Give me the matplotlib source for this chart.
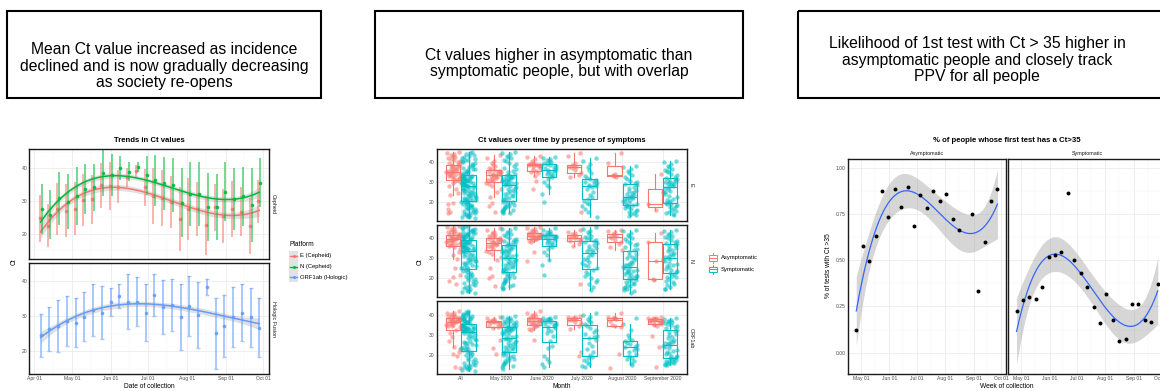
import numpy as np
import matplotlib
matplotlib.use("Agg")
import matplotlib.pyplot as plt
import matplotlib.dates as mdates
from matplotlib.patches import Rectangle

plt.rcParams["font.family"] = ["Liberation Sans", "DejaVu Sans"]

# %% panel 1: weekly mean Ct and sd per target
weeks = ["2020-04-06", "2020-04-13", "2020-04-20", "2020-04-27", "2020-05-04",
         "2020-05-11", "2020-05-18", "2020-05-25", "2020-06-01", "2020-06-08",
         "2020-06-15", "2020-06-22", "2020-06-29", "2020-07-06", "2020-07-13",
         "2020-07-20", "2020-07-27", "2020-08-03", "2020-08-10", "2020-08-17",
         "2020-08-24", "2020-08-31", "2020-09-07", "2020-09-14", "2020-09-21",
         "2020-09-28"]
e_mean = [24.7, 22.5, 27.6, 27.1, 27.7, 30.4, 30.6, 34.8, 34.7, 34.4, 37.2, 39.3, 34.2,
          31.6, 30.9, 29.8, 24.5, 27.6, 27.6, 22.6, 28.1, 25.5, 27.6, 26.7, 22.3, 29.9]
e_sd = [7.1, 6.6, 8.0, 8.1, 8.2, 8.0, 7.5, 6.8, 7.3, 5.0, 3.0, 1.8, 5.7,
        8.5, 8.5, 8.0, 9.8, 9.5, 8.2, 9.0, 7.2, 8.2, 8.5, 7.5, 8.6, 6.5]
n_mean = [27.6, 25.8, 30.9, 29.8, 31.5, 33.7, 34.2, 38.5, 38.0, 40.0, 39.0, 40.3, 37.9,
          36.4, 35.4, 34.9, 29.5, 32.2, 32.2, 28.3, 28.3, 32.9, 30.7, 31.4, 28.7, 35.6]
n_sd = [7.7, 7.5, 8.1, 8.4, 8.8, 7.7, 7.1, 7.1, 6.5, 3.7, 3.0, 1.5, 6.0,
        7.8, 8.1, 8.1, 10.5, 9.8, 9.7, 10.4, 10.1, 9.1, 9.4, 9.0, 11.3, 7.5]
orf_mean = [24.5, 26.3, 27.2, 28.5, 28.1, 29.8, 31.7, 31.0, 34.0, 35.6, 34.1, 34.1, 31.0,
            35.9, 32.6, 33.0, 29.7, 32.8, 30.3, 38.2, 25.1, 27.2, 29.7, 31.0, 29.7, 26.7]
orf_sd = [6.1, 6.2, 7.4, 7.1, 6.9, 7.0, 7.5, 7.4, 4.0, 3.4, 7.9, 7.0, 8.0,
          6.0, 7.7, 7.4, 9.3, 8.5, 9.3, 2.2, 10.1, 8.9, 8.5, 8.0, 8.4, 8.3]
platforms = ["E (Cepheid)", "N (Cepheid)", "ORF1ab (Hologic)"]

# %% panel 2: Ct values by month and symptoms
months = ["All", "May 2020", "June 2020", "July 2020", "August 2020", "September 2020"]
e_asym = [
    [45, 44.5, 44, 43.5, 43, 42.5, 42, 41.5, 41, 40.5, 40, 39.5, 39, 38.8, 38.5, 38.2, 38,
     37.6, 37.2, 36.8, 36.5, 36.2, 36, 35.7, 35.4, 35.1, 35, 34.8, 34.5, 34.2, 34, 33.7,
     33.4, 33, 32.7, 32.4, 32, 31.6, 31.2, 30.8, 30.2, 29.5, 28.2, 26.5, 24.5, 23.5, 19.5,
     19.2, 16.5, 15.2, 14.8],
    [43.5, 42, 40.5, 39.5, 38.8, 38, 37.3, 36.8, 36.3, 35.9, 35.6, 35.3, 35, 34.7, 34.4,
     34.1, 33.8, 33.5, 33.2, 32.9, 32.5, 32.1, 31.7, 31.3, 31, 30.5, 29.8, 29, 28, 26.5, 25,
     22.8, 19.5, 18, 15],
    [43.3, 42.5, 41.5, 40.5, 39.8, 39.4, 39.2, 39, 38.9, 38.8, 38.7, 38.6, 38.4, 38, 37.5,
     37, 36.3, 35.5, 35, 34.5, 33, 30.5, 26.5],
    [44.5, 43, 39.5, 38.8, 38.2, 37.8, 37.5, 37.2, 36, 34.5, 33.5, 32.8, 15],
    [44.5, 39.8, 34, 33.7, 33.2, 32.8],
    [34.3, 19, 16],
]
e_sym = [
    [12.2, 12.6, 12.8, 13, 13.3, 13.7, 14, 14.4, 14.6, 14.8, 15.1, 15.5, 15.8, 16.2, 16.5,
     16.9, 17.2, 17.6, 17.9, 18.2, 18.5, 18.8, 19.1, 19.4, 19.7, 20, 20.2, 20.5, 20.8, 21.1,
     21.4, 21.7, 21.9, 22, 22.3, 22.6, 22.9, 23.2, 23.5, 23.8, 24.1, 24.4, 24.7, 25, 25.3,
     25.6, 25.9, 26.2, 26.5, 26.8, 27.1, 27.4, 27.7, 28, 28.2, 28.4, 28.6, 28.8, 29, 29.2,
     29.4, 29.6, 29.8, 30, 30.2, 30.4, 30.6, 30.8, 31, 31.2, 31.4, 31.6, 31.8, 32, 32.2,
     32.4, 32.6, 32.8, 33, 33.2, 33.4, 33.8, 34.2, 34.7, 35.1, 35.3, 35.6, 36, 36.5, 36.9,
     37.4, 37.8, 38.3, 38.7, 39.2, 39.6, 40.1, 40.5, 41, 41.4, 41.9, 42.3, 42.8, 43.2, 43.7,
     44.1, 44.6, 45],
    [45, 44.5, 44, 43.3, 42.6, 42, 41.2, 40.5, 39.8, 39, 38.2, 37.4, 36.6, 35.8, 35, 34.3,
     33.8, 33.4, 33.1, 32.8, 32.5, 32.2, 31.9, 31.6, 31.3, 31, 30.7, 30.4, 30.1, 29.8, 29.5,
     29.2, 29, 28.6, 28.1, 27.6, 27.1, 26.6, 26.1, 25.6, 25.1, 24.6, 24.1, 23.6, 23.1, 22.6,
     22.1, 21.6, 21.1, 20.8, 20.4, 20, 19.6, 19.2, 18.8, 18.4, 18, 17.6, 17.2, 16.8, 16.4,
     16, 15.6, 15.2, 14.8, 14.5],
    [42.5, 42, 41.5, 41, 40.5, 40, 39.5, 39.2, 38.8, 38.3, 37.8, 37.3, 36.8, 36.4, 36, 35.5,
     35, 34.5, 34, 33.5, 33, 32.6, 31.5, 30, 28.5, 27.5, 24, 20.3],
    [42, 40.5, 39, 37.5, 36, 34.5, 33, 32, 31.5, 31, 30.5, 30, 29.5, 29, 28.5, 28.2, 28,
     27.5, 26.5, 25, 23.5, 22.5, 21.5, 20.5, 19.5, 19, 18, 16.5, 15, 12.5],
    [38.4, 37.5, 36.5, 35.5, 34.5, 33.5, 32.5, 31.5, 30.8, 30.2, 29.8, 29.2, 28.5, 27.8, 27,
     26.2, 25.5, 24.8, 24, 23.5, 23, 22.8, 22.5, 22, 21.5, 21, 20.5, 20, 19.5, 19, 18.5,
     18.2, 17.8, 17.2, 16.6, 16, 15.5, 15, 14.5, 14, 13.5, 13, 18.8, 22.2, 25],
    [40.8, 40, 39.2, 38.4, 37.6, 36.8, 36, 35.2, 34.4, 33.6, 32.8, 32.2, 31.8, 31.4, 31,
     30.6, 30.2, 29.8, 29.4, 29, 28.6, 28.2, 27.8, 27.2, 26.5, 25.8, 25, 24.2, 23.4, 22.6,
     21.8, 21, 20.2, 19.6, 19, 18.6, 18.2, 17.6, 17, 16.4, 15.8, 15.2, 14.6, 14, 13.8, 19.3,
     20.6, 25.4, 30.4, 35.6],
]
n_asym = [
    [45.8, 45.3, 44.8, 44.4, 44, 43.6, 43.2, 42.8, 42.5, 42.2, 41.9, 41.6, 41.3, 41, 40.8,
     40.6, 40.4, 40.2, 40, 39.8, 39.6, 39.4, 39.2, 39, 38.8, 38.5, 38.2, 37.9, 37.6, 37.3,
     37, 36.7, 36.3, 35.9, 35.5, 34.5, 33.3, 31.5, 29.5, 25, 21.5, 20.5, 18.5, 17],
    [45, 44, 43.2, 42.5, 41.8, 41.3, 40.9, 40.6, 40.3, 40, 39.7, 39.4, 39.1, 38.8, 38.6,
     38.3, 38, 37.7, 37.4, 37.1, 36.8, 36.5, 36.2, 35.9, 35.3, 34.6, 33.8, 33, 32, 30.5,
     29.3, 25, 21, 20.3, 16],
    [45.5, 45, 44.5, 44, 43.5, 43, 42.6, 42.3, 42, 41.8, 41.6, 41.4, 41.2, 41, 40.8, 40.6,
     40.4, 40.2, 40, 39.8, 39.6, 39.3, 39, 38.5, 38, 33, 28.5],
    [44, 43.2, 42.5, 41.9, 41.5, 41, 40.6, 40.3, 40, 39.5, 39, 38.5, 38, 37, 36, 17],
    [44.1, 43.5, 42.8, 42.2, 41.5, 40.8, 40.3, 39.8, 39, 38, 36.8, 35.5, 34],
    [42.5, 38, 28.8, 19.8, 19],
]
n_sym = [
    [12.7, 13.2, 13.5, 13.7, 14.2, 14.7, 15.2, 15.7, 16.2, 16.7, 17.2, 17.7, 18.2, 18.7,
     19.2, 19.7, 20.2, 20.7, 21.2, 21.7, 22.2, 22.7, 23.2, 23.7, 24, 24.6, 25, 25.4, 25.8,
     26.2, 26.6, 27, 27.4, 27.8, 28.2, 28.6, 28.8, 29, 29.4, 29.8, 30.2, 30.6, 31, 31.4,
     31.8, 32.2, 32.6, 33, 33.4, 33.6, 33.9, 34.1, 34.3, 34.5, 34.7, 34.9, 35.1, 35.3, 35.5,
     35.7, 35.9, 36, 36.2, 36.5, 36.8, 37, 37.1, 37.4, 37.7, 38, 38.2, 38.3, 38.6, 38.9,
     39.1, 39.4, 39.7, 40, 40.1, 40.3, 40.6, 40.9, 41, 41.2, 41.5, 41.8, 42, 42.1, 42.4,
     42.7, 43, 43.3, 43.6, 43.9, 44.2, 44.5, 44.8, 45.1, 45.4, 45.8],
    [45, 44.4, 43.8, 43.2, 42.6, 42, 41.4, 40.8, 40.2, 39.6, 39.1, 38.7, 38.3, 37.9, 37.5,
     37.1, 36.7, 36.3, 35.9, 35.5, 35.1, 34.7, 34.3, 34, 33.7, 33.3, 32.9, 32.5, 32.1, 31.7,
     31.3, 30.9, 30.5, 30.1, 29.7, 29.3, 28.9, 28.5, 28.1, 27.7, 27.3, 26.9, 26.5, 26.1,
     25.7, 25.3, 24.9, 24.5, 24.2, 23.6, 23, 22.4, 21.8, 21.2, 20.6, 20, 19.4, 18.8, 18.2,
     17.6, 17, 16.4, 15.8, 15.2, 14.6, 16.1, 19.1, 22.1],
    [45, 44.2, 43.5, 43, 42.5, 42, 41.6, 41.3, 41.1, 40.9, 40.8, 40.6, 40.3, 40, 39.5, 39,
     38.5, 38, 37.5, 37, 36.4, 35.5, 34.5, 33, 31.5, 29, 26.5, 21.5],
    [45.3, 44.5, 43.6, 42.8, 42, 41.2, 40.5, 40, 39.5, 39, 38.5, 38, 37.3, 36.6, 35.9, 35.2,
     34.6, 34.2, 33.8, 33, 32.2, 31.4, 30.6, 29.8, 29, 28.2, 27.4, 26.6, 26, 25, 24, 23, 22,
     21, 20, 19, 18, 17, 15.5, 13.9],
    [44.1, 43.3, 42.5, 41.7, 40.9, 40.1, 39.3, 38.5, 37.7, 37, 36.3, 35.5, 34.7, 33.9, 33.1,
     32.3, 31.5, 30.7, 29.9, 29.1, 28.3, 27.5, 26.9, 26.6, 26.4, 26.1, 25.7, 25.2, 24.7,
     24.2, 23.7, 23.2, 22.7, 22.2, 21.7, 21.3, 21, 20.5, 20, 19.5, 19, 18.5, 18, 17.5, 17,
     16.5, 16, 15.5, 15, 14.5, 14, 13.5, 12.7, 23.5, 30],
    [44, 43.4, 42.8, 42.2, 41.6, 41, 40.4, 39.8, 39.2, 38.6, 38, 37.5, 37, 36.4, 35.8, 35.2,
     34.6, 34, 33.4, 32.8, 32.2, 31.6, 31, 30.6, 30.2, 29.6, 29, 28.4, 27.8, 27.2, 26.6, 26,
     25.4, 24.8, 24.2, 23.6, 23, 22.6, 22, 21.2, 20.4, 19.6, 18.8, 18, 17.2, 16.4, 15.6,
     14.8, 14.4, 20.8],
]
orf_asym = [
    [41.5, 41, 40.6, 40.2, 39.8, 39.5, 39.2, 38.9, 38.6, 38.4, 38.2, 38, 37.8, 37.6, 37.4,
     37.2, 37.1, 37, 36.8, 36.6, 36.4, 36.2, 36, 35.7, 35.4, 35.1, 34.8, 34.5, 34.2, 33.8,
     32.5, 31, 29.2, 27, 24, 23.2, 21.5, 20.5, 19.8, 14, 13.8],
    [38.8, 38.2, 37.6, 37.2, 37, 36.8, 36.6, 36.5, 36.3, 36, 35.5, 35, 34.4, 33.9, 33.5,
     27.5, 23.8, 20.5],
    [41.5, 40.8, 40.2, 39.6, 39.1, 38.7, 38.4, 38.1, 37.8, 37.5, 37.2, 37, 36.8, 36.6, 36.4,
     36.1, 35.8, 35.5, 35.2, 34.9, 34.6, 34.2, 33.6, 33, 32.4, 27.6],
    [39.5, 39, 38.6, 38.3, 38, 37.7, 37.5, 37.2, 36.5, 35.6, 34.5, 33, 21.5, 19.5],
    [41, 38.8, 38.5, 38.3, 38.2, 38, 37, 35, 34.5, 34, 20.5, 13.8],
    [38.8, 38.5, 38.3, 38.1, 37.9, 37.7, 37.5, 37.3, 37.1, 36.9, 36.7, 36.4, 36.1, 35.8,
     35.5, 35.2, 35, 34.5, 29.5, 24, 14],
]
orf_sym = [
    [12.4, 12.9, 13.1, 13.4, 13.9, 14.1, 14.4, 14.9, 15.1, 15.4, 15.9, 16.4, 16.9, 17.4,
     17.9, 18.4, 18.9, 19.4, 19.9, 20.4, 20.9, 21.4, 22, 22.5, 23, 23.2, 23.5, 24, 24.5, 25,
     25.5, 25.8, 26, 26.5, 27, 27.5, 28, 28.5, 29, 29.5, 30, 30.5, 31, 31.2, 31.5, 31.7,
     31.9, 32.1, 32.2, 32.3, 32.5, 32.7, 32.9, 33.1, 33.3, 33.5, 33.6, 33.7, 33.9, 34.1,
     34.3, 34.5, 34.7, 34.9, 35.1, 35.3, 35.8, 36.1, 36.4, 36.5, 36.7, 37, 37.3, 37.6, 37.9,
     38, 38.2, 38.5, 38.8, 39.1, 39.4, 39.7, 40, 40.3, 40.6, 40.9, 41.2, 41.5],
    [39.3, 38.9, 38.5, 38.1, 37.7, 37.3, 36.9, 36.5, 36.3, 36.1, 35.7, 35.3, 35, 34.7, 34.4,
     34.1, 33.8, 33.5, 33.2, 33, 32.9, 32.6, 32.3, 32, 31.7, 31.4, 31, 30.5, 30, 29.5, 29,
     28.5, 28.2, 28, 27.5, 27, 26.5, 26, 25.5, 25, 24.5, 24.2, 24, 23.5, 23, 22.5, 22, 21.5,
     21, 20.5, 20, 19.5, 19, 18.5, 18, 17.5, 17, 16.5, 16, 15.5, 15, 14.5, 14, 13.3],
    [38.8, 38.5, 38.2, 38, 37.7, 37.4, 37, 36.6, 36.2, 35.8, 35.5, 35.2, 34.8, 34.3, 33.8,
     33.2, 32.5, 31.8, 31, 29.5, 27, 24.5, 23.4, 19.5, 18.3, 16.5, 15.5, 14],
    [41, 40, 39, 38, 37, 36.2, 35.5, 34.5, 33.5, 32.5, 31.5, 30.5, 29.5, 28.8, 28.5, 27.5,
     26, 24.5, 23, 21.5, 20, 19.3, 18.5, 17.5, 16.5, 15.5, 14.8, 14.1],
    [38.5, 35.5, 32.5, 30, 28.5, 27.3, 26.8, 26, 25.3, 24.8, 24.3, 24, 23.3, 22.5, 21.5,
     20.5, 19.5, 18.5, 18, 17, 16, 15],
    [38.5, 38, 37.5, 37, 36.8, 36.5, 36, 35.5, 35.1, 34.6, 34, 33.3, 32.6, 31.9, 31.2, 30.5,
     29.8, 29.1, 28.4, 27.7, 27, 26.4, 26.1, 25.8, 25.4, 25, 24.5, 24, 23.4, 22.8, 22.2,
     21.6, 21, 20.4, 19.8, 19.5, 19.2, 18.8, 18.4, 18, 17.6, 17.3, 17.2, 16.8, 16.4, 16.2,
     16, 15.6, 15.2, 15],
]
targets = ["E", "N", "ORF1ab"]

# %% panel 3: share of first tests with Ct > 35, weekly
ppv_weeks = ["2020-04-26", "2020-05-03", "2020-05-10", "2020-05-17", "2020-05-24",
             "2020-05-31", "2020-06-07", "2020-06-14", "2020-06-21", "2020-06-28",
             "2020-07-05", "2020-07-12", "2020-07-19", "2020-07-26", "2020-08-02",
             "2020-08-09", "2020-08-16", "2020-08-23", "2020-08-30", "2020-09-06",
             "2020-09-13", "2020-09-20", "2020-09-27"]
asym_share = [0.122, 0.577, 0.498, 0.631, 0.872, 0.734, 0.887, 0.788, 0.897, 0.685, 0.854,
              0.782, 0.872, 0.817, 0.856, 0.725, 0.665, np.nan, 0.748, 0.331, 0.597, 0.817,
              0.887]
sym_share = [0.225, 0.284, 0.302, 0.291, 0.353, 0.518, 0.527, 0.545, 0.865, 0.500, 0.428,
             0.356, 0.248, 0.160, 0.317, 0.174, 0.063, 0.072, 0.261, 0.264, 0.174, 0.165,
             0.369]

# %% figure helpers
W, H = 1160, 391
fig = plt.figure(figsize=(W / 100, H / 100), dpi=100, facecolor="white")
RED, GREEN, BLUE, CYAN = "#F8766D", "#00BA38", "#619CFF", "#00BFC4"
TICK = 3.6


def add_ax(x0, y0, x1, y1):
    # pixel box (from top-left) -> figure axes
    return fig.add_axes([x0 / W, 1 - y1 / H, (x1 - x0) / W, (y1 - y0) / H])


def style(ax):
    for sp in ax.spines.values():
        sp.set_linewidth(1.0)
        sp.set_color("#1A1A1A")
    ax.tick_params(which="both", length=0, labelsize=TICK, labelcolor="#4D4D4D", pad=1.5)
    ax.grid(which="major", color="#EBEBEB", lw=0.6)
    ax.grid(which="minor", color="#F4F4F4", lw=0.35)
    ax.set_axisbelow(True)


def cubic_fit(x, y, xs, z):
    x = np.asarray(x, float)
    y = np.asarray(y, float)
    ok = ~np.isnan(y)
    x, y = x[ok], y[ok]
    c, s = x.mean(), x.std()
    X = np.vander((x - c) / s, 4)
    beta = np.linalg.lstsq(X, y, rcond=None)[0]
    res = y - X @ beta
    cov = (res @ res / (len(y) - 4)) * np.linalg.inv(X.T @ X)
    Xs = np.vander((xs - c) / s, 4)
    fit = Xs @ beta
    se = np.sqrt(np.einsum("ij,jk,ik->i", Xs, cov, Xs))
    return fit, fit - z * se, fit + z * se


def jitter(n, width):
    # deterministic scatter offsets in [-width, width]
    k = np.arange(n) + 1.0
    u = np.sin(k * 12.9898) * 43758.5453
    return (u - np.floor(u) - 0.5) * 2 * width


def date_axis(ax, lo, hi, labels=True):
    ax.set_xlim(mdates.date2num(np.datetime64(lo)), mdates.date2num(np.datetime64(hi)))
    ax.xaxis.set_major_locator(mdates.MonthLocator())
    ax.xaxis.set_minor_locator(mdates.MonthLocator(bymonthday=16))
    ax.xaxis.set_major_formatter(mdates.DateFormatter("%b %d"))
    if not labels:
        ax.tick_params(axis="x", labelbottom=False)


# %% panel 1: trends in Ct values
wk = mdates.date2num(np.array(weeks, dtype="datetime64[D]"))
xs1 = np.linspace(wk.min(), wk.max(), 200)
top = add_ax(29.3, 149, 269.3, 259)
bot = add_ax(29.3, 263.3, 269.3, 374)
facets = [
    (top, [(e_mean, e_sd, RED, -0.8, 0), (n_mean, n_sd, GREEN, 0.8, 0)], (12.3, 45.9)),
    (bot, [(orf_mean, orf_sd, BLUE, 0, 1.5)], (13.5, 43.3)),
]
for ax, series, ylim in facets:
    style(ax)
    for m, s, col, off, cap in series:
        m = np.array(m)
        ax.errorbar(wk + off, m, yerr=s, fmt="none", ecolor=col, elinewidth=1.4,
                    alpha=0.55, capsize=cap, capthick=1.0)
        ax.plot(wk + off, m, "o", ms=2.6, color=col, mec="none", alpha=0.9)
        fit, lo, hi = cubic_fit(wk, m, xs1, 1.0)
        ax.fill_between(xs1, lo, hi, color="#999999", alpha=0.3, lw=0)
        ax.plot(xs1, fit, color=col, lw=1.1)
    ax.set_ylim(*ylim)
    ax.set_yticks([20, 30, 40])
    ax.set_yticks([15, 25, 35, 45], minor=True)
date_axis(top, "2020-03-28", "2020-10-06", labels=False)
date_axis(bot, "2020-03-28", "2020-10-06")

# %% panel 2: boxplots by symptoms
pos = np.arange(len(months))
p2 = [add_ax(436.7, 149.3, 686.7, 220.7), add_ax(436.7, 225, 686.7, 296.7),
      add_ax(436.7, 301.3, 686.7, 374)]
groups = [(e_asym, e_sym), (n_asym, n_sym), (orf_asym, orf_sym)]
for k, (ax, (asym, sym)) in enumerate(zip(p2, groups)):
    style(ax)
    for grp, col, off in ((asym, RED, -0.19), (sym, CYAN, 0.19)):
        ax.boxplot(grp, positions=pos + off, widths=0.36, showfliers=False, showcaps=False,
                   manage_ticks=False,
                   boxprops=dict(color=col, lw=0.8), whiskerprops=dict(color=col, lw=0.8),
                   medianprops=dict(color=col, lw=0.8))
        for i, vals in enumerate(grp):
            v = np.array(vals)
            ax.scatter(i + off + jitter(len(v), 0.18), v, s=10, color=col, alpha=0.55, lw=0)
    ax.set_xlim(-0.6, 5.6)
    ax.set_ylim(10.8, 46.5)
    ax.set_xticks(pos)
    ax.set_xticklabels(months)
    ax.set_yticks([20, 30, 40])
    ax.set_yticks([15, 25, 35, 45], minor=True)
    if k < 2:
        ax.tick_params(axis="x", labelbottom=False)

# %% panel 3: share with Ct > 35
pw = mdates.date2num(np.array(ppv_weeks, dtype="datetime64[D]"))
xs3 = np.linspace(pw.min(), pw.max(), 200)
axA = add_ax(848, 159.3, 1005.7, 374.3)
axS = add_ax(1008.3, 159.3, 1166, 374.3)
for ax, vals in ((axA, asym_share), (axS, sym_share)):
    style(ax)
    v = np.array(vals, dtype=float)
    fit, lo, hi = cubic_fit(pw, v, xs3, 2.1)
    ax.fill_between(xs3, lo, hi, color="#999999", alpha=0.4, lw=0)
    ax.plot(xs3, fit, color="#3366FF", lw=0.9)
    ax.scatter(pw, v, s=8, color="black", lw=0, zorder=3)
    ax.set_ylim(-0.117, 1.045)
    ax.set_yticks([0, 0.25, 0.5, 0.75, 1.0])
    ax.set_yticks([0.125, 0.375, 0.625, 0.875], minor=True)
    ax.set_yticklabels(["0.00", "0.25", "0.50", "0.75", "1.00"])
    date_axis(ax, "2020-04-17", "2020-10-06")
axS.tick_params(axis="y", labelleft=False)

# %% overlay: boxes, titles, strips, legends (pixel coords)
ov = fig.add_axes([0, 0, 1, 1])
ov.set_xlim(0, W)
ov.set_ylim(H, 0)
ov.axis("off")

notes = [
    ((7.3, 11, 320.7, 98), (164, 66.4),
     "Mean Ct value increased as incidence\ndeclined and is now gradually decreasing\nas society re-opens"),
    ((375, 11, 743.3, 98), (559, 63.4),
     "Ct values higher in asymptomatic than\nsymptomatic people, but with overlap"),
    ((798.3, 11, 1170, 98), (977, 60.2),
     "Likelihood of 1st test with Ct > 35 higher in\nasymptomatic people and closely track\nPPV for all people"),
]
for (x0, y0, x1, y1), (tx, ty), txt in notes:
    ov.add_patch(Rectangle((x0, y0), x1 - x0, y1 - y0, fill=False, lw=1.5,
                           ec="black", clip_on=False))
    ov.text(tx, ty, txt, ha="center", va="center", fontsize=11.3, linespacing=1.12)

titles = [(149.3, "Trends in Ct values"),
          (561.7, "Ct values over time by presence of symptoms"),
          (1007, "% of people whose first test has a Ct>35")]
for x, t in titles:
    ov.text(x, 141, t, ha="center", va="center", fontsize=5.6, fontweight="bold")

strip = dict(fontsize=3.9, color="#1A1A1A", va="center", ha="center")
ov.text(273.5, 204, "Cepheid", rotation=-90, **strip)
ov.text(273.5, 318.6, "Hologic Fusion", rotation=-90, **strip)
for y, t in ((185, "E"), (261, "N"), (337.7, "ORF1ab")):
    ov.text(690.8, y, t, rotation=-90, **strip)
ov.text(927, 154, "Asymptomatic", **strip)
ov.text(1087, 154, "Symptomatic", **strip)

lab = dict(fontsize=4.8, ha="center", va="center")
ov.text(14, 262, "Ct", rotation=90, **lab)
ov.text(149.3, 386, "Date of collection", **lab)
ov.text(420, 262, "Ct", rotation=90, **lab)
ov.text(561.7, 386, "Month", **lab)
ov.text(828.3, 266, "% of tests with Ct >35", rotation=90, **lab)
ov.text(1007, 386, "Week of collection", **lab)

# legend panel 1
ov.text(289.5, 245, "Platform", fontsize=4.8, ha="left", va="center")
for i, (name, col) in enumerate(zip(platforms, (RED, GREEN, BLUE))):
    yc = 256 + i * 10.5
    ov.add_patch(Rectangle((289.2, yc - 5.2), 8.6, 10.4, fc="#E2E2E2", ec="none"))
    ov.plot([289.6, 297.4], [yc, yc], color=col, lw=1.0)
    ov.plot([293.5], [yc], "o", ms=2.2, color=col, mec="none")
    ov.text(300, yc, name, fontsize=4.2, ha="left", va="center")

# legend panel 2
for yc, name, col in ((257.7, "Asymptomatic", RED), (269.3, "Symptomatic", CYAN)):
    ov.add_patch(Rectangle((709.3, yc - 2.8), 7.4, 5.6, fill=False, ec=col, lw=0.7))
    ov.plot([709.3, 716.7], [yc, yc], color=col, lw=0.7)
    ov.plot([713, 713], [yc - 2.8, yc - 4.8], color=col, lw=0.7)
    ov.plot([713, 713], [yc + 2.8, yc + 4.8], color=col, lw=0.7)
    ov.text(720.5, yc, name, fontsize=4.2, ha="left", va="center")

fig.savefig("out.png", dpi=100, facecolor="white")
